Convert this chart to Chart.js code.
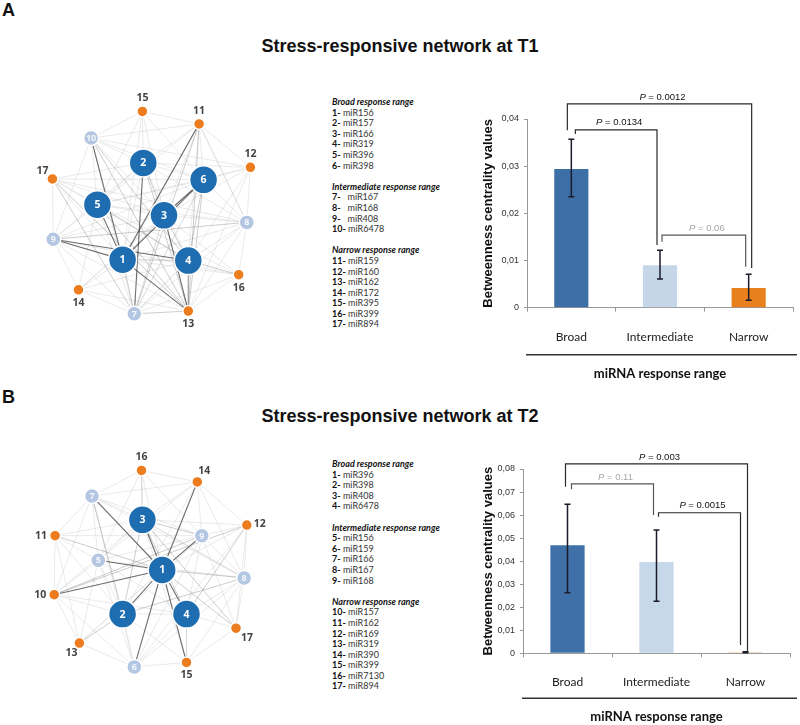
<!DOCTYPE html>
<html><head><meta charset="utf-8">
<script src="https://cdn.jsdelivr.net/npm/chart.js@4.4.0/dist/chart.umd.min.js"></script>
<style>
body{margin:0;width:800px;height:725px;position:relative;background:#fff;overflow:hidden;font-family:"Liberation Sans",Arial,sans-serif}
.abs{position:absolute}
.letter{font-weight:bold;font-size:18px;line-height:18px;left:2px;color:#111}
.title{font-weight:bold;font-size:18px;line-height:18px;left:0;width:800px;text-align:center;color:#111}
.list{left:332px;font-family:Lato,"Open Sans",sans-serif;font-size:10px;line-height:10.6px;color:#333;white-space:pre;transform:scaleX(0.9);transform-origin:0 0}
.list .h{font-weight:bold;font-style:italic;color:#111}
.list b{color:#111}
canvas{position:absolute}
</style></head>
<body>
<div class="abs letter" style="top:1px">A</div>
<div class="abs title" style="top:37px">Stress-responsive network at T1</div>
<div class="abs letter" style="top:388px">B</div>
<div class="abs title" style="top:407px">Stress-responsive network at T2</div>
<div class="abs list" id="listT1" style="top:96px"></div>
<div class="abs list" id="listT2" style="top:458px"></div>
<canvas id="netT1" width="310" height="275" style="left:0;top:80px"></canvas>
<canvas id="netT2" width="310" height="260" style="left:0;top:440px"></canvas>
<canvas id="barT1" width="340" height="310" style="left:460px;top:80px"></canvas>
<canvas id="barT2" width="340" height="285" style="left:460px;top:440px"></canvas>
<script>
// ---------------- DATA ----------------
const categories = ['Broad', 'Intermediate', 'Narrow'];

// T1 bar chart
const yTickLabelsT1 = ['0', '0,01', '0,02', '0,03', '0,04'];
const meanT1 = [0.0294, 0.0090, 0.0042];
const errLowT1 = [0.0235, 0.0061, 0.0016];
const errHighT1 = [0.0357, 0.0122, 0.0071];
const pTextT1 = ['0.0012', '0.0134', '0.06'];
const pFromT1 = [0, 0, 1];
const pToT1 = [2, 1, 2];
const pLeftT1 = [0.0376, 0.0368, 0.0140];
const pTopT1 = [0.0432, 0.0377, 0.0154];
const pRightT1 = [0.0084, 0.0133, 0.0087];
const pSignifT1 = [true, true, false];

// T2 bar chart
const yTickLabelsT2 = ['0', '0,01', '0,02', '0,03', '0,04', '0,05', '0,06', '0,07', '0,08'];
const meanT2 = [0.0469, 0.0396, 0.0004];
const errLowT2 = [0.0263, 0.0226, 0.0002];
const errHighT2 = [0.0647, 0.0535, 0.0007];
const pTextT2 = ['0.003', '0.11', '0.0015'];
const pFromT2 = [0, 0, 1];
const pToT2 = [2, 1, 2];
const pLeftT2 = [0.0723, 0.0712, 0.0593];
const pTopT2 = [0.0822, 0.0735, 0.0610];
const pRightT2 = [0.0004, 0.0600, 0.0036];
const pSignifT2 = [true, false, true];

// miRNA lists
const broadT1 = ['miR156', 'miR157', 'miR166', 'miR319', 'miR396', 'miR398'];
const interT1 = ['miR167', 'miR168', 'miR408', 'miR6478'];
const narrowT1 = ['miR159', 'miR160', 'miR162', 'miR172', 'miR395', 'miR399', 'miR894'];
const broadT2 = ['miR396', 'miR398', 'miR408', 'miR6478'];
const interT2 = ['miR156', 'miR159', 'miR166', 'miR167', 'miR168'];
const narrowT2 = ['miR157', 'miR162', 'miR169', 'miR319', 'miR390', 'miR399', 'miR7130', 'miR894'];

// network layouts (node 1..17)
const layoutXT1 = [119, 142, 165, 192, 91, 209, 132, 257, 42, 84, 204, 261, 192, 70, 141, 248, 41];
const layoutYT1 = [265, 156, 215, 266, 203, 175, 326, 223, 242, 128, 112, 161, 323, 299, 98, 282, 174];
const strongEdgesT1 = [[10,1],[5,1],[2,7],[6,1],[11,1],[9,4],[1,13],[3,13],[9,1],[6,3]];
const mediumEdgesT1 = [[3,1],[9,8],[2,13],[5,13],[1,7],[7,13],[4,13],[6,4],[6,13],[17,7],[10,13],[1,4],[3,4],[11,7],[16,4],[5,4],[10,4],[2,3],[17,13],[11,13]];
const weakEdgesT1 = [[15,2],[15,1],[15,10],[15,6],[15,11],[10,2],[10,5],[10,9],[10,6],[10,3],[10,7],[10,11],[17,9],[17,5],[17,1],[17,3],[17,6],[17,4],[17,2],[9,5],[9,2],[9,3],[9,7],[9,13],[9,6],[14,1],[14,3],[14,6],[14,7],[14,9],[14,5],[7,5],[7,3],[7,4],[7,8],[7,6],[7,16],[13,8],[13,16],[13,14],[16,8],[16,1],[16,3],[16,5],[8,3],[8,4],[8,6],[8,1],[8,2],[8,5],[8,11],[12,6],[12,8],[12,2],[12,3],[12,5],[12,4],[12,10],[11,6],[11,2],[11,3],[11,4],[11,8],[11,12],[11,5],[2,5],[2,6],[2,4],[2,1],[5,3],[5,6],[6,7],[3,7],[4,7],[12,13],[15,5],[15,3],[9,16],[14,4],[17,8]];
const groupsT1 = ['broad','broad','broad','broad','broad','broad','inter','inter','inter','inter','narrow','narrow','narrow','narrow','narrow','narrow','narrow'];

const layoutXT2 = [163, 119, 141, 190, 92, 132, 85, 254, 207, 43, 44, 257, 71, 202, 190, 140, 245];
const layoutYT2 = [570, 620, 513, 620, 559, 680, 486, 579, 531, 598, 531, 519, 653, 470, 675, 457, 636];
const strongEdgesT2 = [[7,1],[3,1],[5,1],[14,1],[9,1],[10,1],[2,1],[4,1],[6,1],[15,1]];
const mediumEdgesT2 = [[8,1],[11,1],[2,8],[10,9],[3,17],[10,12],[13,2],[16,3],[3,9],[12,4],[7,2],[3,2],[3,4],[1,17]];
const weakEdgesT2 = [[16,14],[16,7],[16,9],[16,1],[14,3],[14,9],[14,8],[14,12],[14,7],[14,2],[7,11],[7,5],[7,9],[7,10],[7,6],[7,3],[7,8],[11,5],[11,10],[11,3],[11,2],[11,9],[12,9],[12,8],[12,3],[12,1],[12,17],[12,6],[5,10],[5,3],[5,2],[5,9],[5,4],[5,6],[5,8],[9,2],[9,4],[9,8],[8,4],[8,17],[8,15],[8,6],[8,3],[10,2],[10,13],[10,6],[10,4],[10,3],[13,6],[13,5],[13,1],[2,6],[2,4],[2,15],[4,6],[4,15],[4,17],[6,15],[6,9],[15,17],[15,3],[17,9],[3,8],[1,13],[11,13],[16,5],[14,5]];
const groupsT2 = ['broad','broad','broad','broad','inter','inter','inter','inter','inter','narrow','narrow','narrow','narrow','narrow','narrow','narrow','narrow'];

// ---------------- STYLE ----------------
const STYLE = {
  nodeColor: {broad: '#1f6db1', inter: '#b3c6e2', narrow: '#ec7c1e'},
  nodeRadius: {broad: 14, inter: 7.5, narrow: 5.5},
  edge: {strong: ['rgba(60,60,60,0.75)', 1.1], medium: ['rgba(130,130,130,0.45)', 0.9], weak: ['rgba(195,195,195,0.45)', 0.8]},
  labelDirT1: {11:'n',12:'n',13:'s',14:'s',15:'n',16:'s',17:'nw'},
  labelDirT2: {10:'w',11:'w',12:'e',13:'sw',14:'ne',15:'s',16:'n',17:'se'},
  dirOffset: {n:[0,-13], s:[0,13], e:[13,-1], w:[-14,0], nw:[-10,-8], ne:[7,-11], se:[11,10], sw:[-8,10]},
  barColorsT1: ['#3c6fa6', '#c5d6e8', '#e8801e'],
  barColorsT2: ['#3f70a8', '#c6d8ea', '#e8801e']
};

// ---------------- LISTS ----------------
function buildList(id, broad, inter, narrow, padSmall) {
  const el = document.getElementById(id);
  let html = '<div class="h">Broad response range</div>';
  let n = 1;
  const item = (name) => { const num = n + '-'; const sp = (padSmall && padSmall.includes(n)) ? '   ' : ' '; html += '<div><b>' + num + '</b>' + sp + name + '</div>'; n++; };
  broad.forEach(item);
  html += '<div>&nbsp;</div><div class="h">Intermediate response range</div>';
  inter.forEach(item);
  html += '<div>&nbsp;</div><div class="h">Narrow response range</div>';
  narrow.forEach(item);
  el.innerHTML = html;
}
buildList('listT1', broadT1, interT1, narrowT1, [7, 8, 9]);
buildList('listT2', broadT2, interT2, narrowT2, []);

// ---------------- NETWORKS ----------------
const nodeLabelPlugin = {
  id: 'nodeLabels',
  afterDatasetsDraw(chart, args, opts) {
    const ctx = chart.ctx;
    const meta = chart.getDatasetMeta(0);
    ctx.save();
    ctx.textAlign = 'center';
    ctx.textBaseline = 'middle';
    meta.data.forEach((pt, i) => {
      const id = i + 1;
      const g = opts.groups[i];
      if (g === 'narrow') {
        const off = STYLE.dirOffset[opts.dirs[id]];
        ctx.font = 'bold 10.5px "Open Sans", "Liberation Sans", sans-serif';
        ctx.fillStyle = '#444';
        ctx.fillText(String(id), pt.x + off[0], pt.y + off[1]);
      } else {
        ctx.font = (g === 'broad' ? 'bold 10.5px' : 'bold 9px') + ' "Open Sans", "Liberation Sans", sans-serif';
        ctx.fillStyle = g === 'broad' ? '#ffffff' : '#f4f7fc';
        ctx.fillText(String(id), pt.x, pt.y + 0.5);
      }
    });
    ctx.restore();
  }
};

function networkChart(canvasId, xs, ys, groups, strong, medium, weak, dirs, yMin, yMax, xMax) {
  const pt = (k) => ({x: xs[k - 1], y: ys[k - 1]});
  const datasets = [{
    data: xs.map((x, i) => ({x: x, y: ys[i]})),
    showLine: false,
    pointRadius: groups.map(g => STYLE.nodeRadius[g]),
    pointHoverRadius: groups.map(g => STYLE.nodeRadius[g]),
    pointBackgroundColor: groups.map(g => STYLE.nodeColor[g]),
    pointBorderColor: '#ffffff',
    pointBorderWidth: 1.5,
    clip: false
  }];
  const add = (list, key) => list.forEach(([a, b]) => datasets.push({
    data: [pt(a), pt(b)], showLine: true, borderColor: STYLE.edge[key][0], borderWidth: STYLE.edge[key][1],
    pointRadius: 0, pointHoverRadius: 0, clip: false
  }));
  add(strong, 'strong');
  add(medium, 'medium');
  add(weak, 'weak');
  new Chart(document.getElementById(canvasId), {
    type: 'scatter',
    data: {datasets},
    options: {
      responsive: false, animation: false, events: [],
      layout: {padding: 0},
      plugins: {legend: {display: false}, tooltip: {enabled: false}, nodeLabels: {groups, dirs}},
      scales: {
        x: {type: 'linear', min: 0, max: xMax, display: false},
        y: {type: 'linear', min: yMin, max: yMax, reverse: true, display: false}
      }
    },
    plugins: [nodeLabelPlugin]
  });
}
networkChart('netT1', layoutXT1, layoutYT1, groupsT1, strongEdgesT1, mediumEdgesT1, weakEdgesT1, STYLE.labelDirT1, 80, 355, 310);
networkChart('netT2', layoutXT2, layoutYT2, groupsT2, strongEdgesT2, mediumEdgesT2, weakEdgesT2, STYLE.labelDirT2, 440, 700, 310);

// ---------------- BAR CHARTS ----------------
const barExtrasPlugin = {
  id: 'barExtras',
  afterDatasetsDraw(chart, args, o) {
    const ctx = chart.ctx;
    const ys = chart.scales.y;
    const meta = chart.getDatasetMeta(0);
    const ca = chart.chartArea;
    ctx.save();
    // error bars
    ctx.strokeStyle = '#1b1b2a';
    ctx.lineWidth = 1.5;
    meta.data.forEach((bar, i) => {
      const x = bar.x, yh = ys.getPixelForValue(o.hi[i]), yl = ys.getPixelForValue(o.lo[i]);
      ctx.beginPath();
      ctx.moveTo(x, yh); ctx.lineTo(x, yl);
      ctx.moveTo(x - 3, yh); ctx.lineTo(x + 3, yh);
      ctx.moveTo(x - 3, yl); ctx.lineTo(x + 3, yl);
      ctx.stroke();
    });
    // significance brackets
    o.from.forEach((f, i) => {
      const xl = meta.data[f].x + o.offL[i];
      const xr = meta.data[o.to[i]].x + o.offR[i];
      const yl = ys.getPixelForValue(o.left[i]);
      const yt = ys.getPixelForValue(o.top[i]);
      const yr = ys.getPixelForValue(o.right[i]);
      ctx.strokeStyle = o.sig[i] ? '#2a2a2a' : '#555555';
      ctx.lineWidth = 1.2;
      ctx.beginPath();
      ctx.moveTo(xl, yl); ctx.lineTo(xl, yt); ctx.lineTo(xr, yt); ctx.lineTo(xr, yr);
      ctx.stroke();
      const col = o.sig[i] ? '#111111' : '#a8a8a8';
      const rest = ' = ' + o.text[i];
      ctx.font = 'italic 9.5px "Liberation Sans", Arial, sans-serif';
      const wP = ctx.measureText('P').width;
      ctx.font = '9.5px "Liberation Sans", Arial, sans-serif';
      const wR = ctx.measureText(rest).width;
      const cx = (xl + xr) / 2 + 3;
      const x0 = cx - (wP + wR) / 2;
      ctx.fillStyle = col;
      ctx.textAlign = 'left';
      ctx.textBaseline = 'middle';
      ctx.font = 'italic 9.5px "Liberation Sans", Arial, sans-serif';
      ctx.fillText('P', x0, yt - 7);
      ctx.font = '9.5px "Liberation Sans", Arial, sans-serif';
      ctx.fillText(rest, x0 + wP, yt - 7);
    });
    // separator line above axis title
    ctx.strokeStyle = '#333';
    ctx.lineWidth = 1.5;
    ctx.beginPath();
    ctx.moveTo(ca.left - 1, ca.bottom + o.sepGap);
    ctx.lineTo(chart.width - 3, ca.bottom + o.sepGap);
    ctx.stroke();
    ctx.restore();
  }
};

function barChart(id, means, lo, hi, tickLabels, yMax, colors, br, g) {
  new Chart(document.getElementById(id), {
    type: 'bar',
    data: {labels: categories, datasets: [{data: means, backgroundColor: colors, barPercentage: 0.385, categoryPercentage: 1}]},
    options: {
      responsive: false, animation: false, events: [],
      layout: {padding: {top: g.top, right: g.right, left: 0, bottom: 0}},
      plugins: {legend: {display: false}, tooltip: {enabled: false},
        barExtras: Object.assign({lo, hi, sepGap: g.sepGap}, br)},
      scales: {
        x: {
          grid: {display: true, drawOnChartArea: false, drawTicks: true, tickLength: 4, color: '#999', offset: true},
          border: {color: '#999', width: 1},
          ticks: {font: {family: 'Lato', size: 12}, color: '#222', padding: g.xpad},
          title: {display: true, text: 'miRNA response range', font: {family: 'Lato', size: 13, weight: 'bold'}, color: '#111', padding: {top: 0, bottom: g.tpad}},
          afterFit: (s) => { s.height = g.xh; }
        },
        y: {
          min: 0, max: yMax,
          ticks: {stepSize: 0.01, callback: (v, i) => tickLabels[i], font: {family: 'Liberation Sans', size: 9}, color: '#333', padding: 5},
          grid: {drawOnChartArea: false, drawTicks: true, tickLength: 3, color: '#999'},
          border: {color: '#999', width: 1},
          title: {display: true, text: 'Betweenness centrality values', font: {family: 'Liberation Sans', size: 13, weight: 'bold'}, color: '#111', padding: {top: g.ytpad, bottom: 0}},
          afterFit: (s) => { s.width = g.yw; }
        }
      }
    },
    plugins: [barExtrasPlugin]
  });
}

barChart('barT1', meanT1, errLowT1, errHighT1, yTickLabelsT1, 0.04, STYLE.barColorsT1,
  {from: pFromT1, to: pToT1, left: pLeftT1, top: pTopT1, right: pRightT1, text: pTextT1, sig: pSignifT1, offL: [-4, 4, 2], offR: [3, -3, -3]},
  {top: 39, right: 7, xh: 82.3, yw: 67, ytpad: 20.2, tpad: 8.5, xpad: 18, sepGap: 47});
barChart('barT2', meanT2, errLowT2, errHighT2, yTickLabelsT2, 0.08, STYLE.barColorsT2,
  {from: pFromT2, to: pToT2, left: pLeftT2, top: pTopT2, right: pRightT2, text: pTextT2, sig: pSignifT2, offL: [-2, 4, 2], offR: [2, -3, -5]},
  {top: 29, right: 10, xh: 71.7, yw: 63, ytpad: 20.2, tpad: 0.2, xpad: 18, sepGap: 45});
</script>
</body></html>
